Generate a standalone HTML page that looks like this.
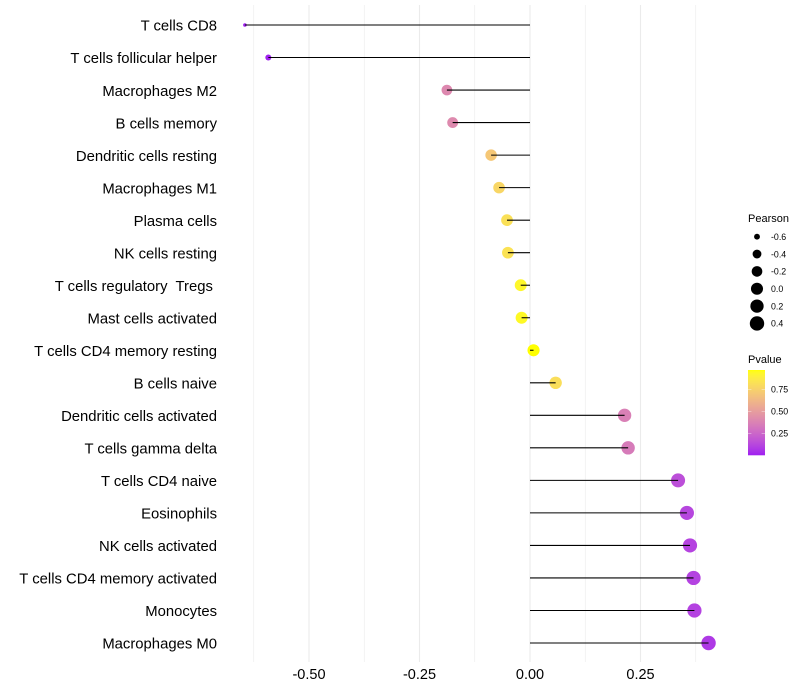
<!DOCTYPE html>
<html>
<head>
<meta charset="utf-8">
<title>Immune cell correlation lollipop chart</title>
<style>
html,body{margin:0;padding:0;background:#fff;width:800px;height:700px;overflow:hidden}
svg{display:block}
text{font-family:"Liberation Sans",sans-serif;fill:#000}
</style>
</head>
<body>
<svg id="chart" xmlns="http://www.w3.org/2000/svg" width="800" height="700" viewBox="0 0 800 700"></svg>
<script>
const categories = ["T cells CD8","T cells follicular helper","Macrophages M2","B cells memory","Dendritic cells resting","Macrophages M1","Plasma cells","NK cells resting","T cells regulatory  Tregs ","Mast cells activated","T cells CD4 memory resting","B cells naive","Dendritic cells activated","T cells gamma delta","T cells CD4 naive","Eosinophils","NK cells activated","T cells CD4 memory activated","Monocytes","Macrophages M0"];
const pearson = [-0.645,-0.592,-0.188,-0.175,-0.088,-0.07,-0.052,-0.05,-0.021,-0.019,0.008,0.058,0.214,0.222,0.335,0.355,0.362,0.37,0.372,0.404];
const pvalue = [0.002,0.007,0.40,0.41,0.70,0.77,0.82,0.83,0.93,0.94,0.97,0.81,0.36,0.34,0.15,0.115,0.105,0.10,0.10,0.07];
const majorTicks = [-0.5,-0.25,0,0.25];
const majorTickLabels = ["-0.50","-0.25","0.00","0.25"];
const minorTicks = [-0.625,-0.375,-0.125,0.125,0.375];
const sizeLegendValues = [-0.6,-0.4,-0.2,0,0.2,0.4];
const sizeLegendLabels = ["-0.6","-0.4","-0.2","0.0","0.2","0.4"];
const colorLegendValues = [0.25,0.5,0.75];
const colorLegendLabels = ["0.25","0.50","0.75"];

const svgNS = "http://www.w3.org/2000/svg";
const chart = document.getElementById("chart");
function make(tag, attrs, parent){
  const el = document.createElementNS(svgNS, tag);
  for (const k in attrs) el.setAttribute(k, attrs[k]);
  (parent || chart).appendChild(el);
  return el;
}
/* axis functions */
const xScale = v => 530 + v * 442;
const yScale = i => 25 + i * (618 / 19);
const sizeMin = -0.645, sizeMax = 0.404;
const radiusScale = v => 1.8 + 5.4 * Math.sqrt(Math.max(0, (v - sizeMin) / (sizeMax - sizeMin)));
const legendY = i => 236.7 + i * 17.35;
const barTop = 370, barBottom = 455;
const barY = p => 455.3 - p * 88;

/* colour scale: purple to yellow, interpolated in Lab */
function toLab(rgb){
  const l = rgb.map(c => { c /= 255; return c > 0.04045 ? Math.pow((c + 0.055) / 1.055, 2.4) : c / 12.92; });
  const X = (0.4124*l[0]+0.3576*l[1]+0.1805*l[2]) / 0.95047;
  const Y = 0.2126*l[0]+0.7152*l[1]+0.0722*l[2];
  const Z = (0.0193*l[0]+0.1192*l[1]+0.9505*l[2]) / 1.08883;
  const f = t => t > 0.008856 ? Math.cbrt(t) : 7.787*t + 16/116;
  return [116*f(Y)-16, 500*(f(X)-f(Y)), 200*(f(Y)-f(Z))];
}
function fromLab(lab){
  const fy = (lab[0]+16)/116, fx = fy + lab[1]/500, fz = fy - lab[2]/200;
  const g = t => t*t*t > 0.008856 ? t*t*t : (t-16/116)/7.787;
  const X = g(fx)*0.95047, Y = g(fy), Z = g(fz)*1.08883;
  const lin = [3.2406*X-1.5372*Y-0.4986*Z, -0.9689*X+1.8758*Y+0.0415*Z, 0.0557*X-0.2040*Y+1.0570*Z];
  const out = lin.map(c => { c = Math.min(1, Math.max(0, c)); c = c > 0.0031308 ? 1.055*Math.pow(c,1/2.4)-0.055 : 12.92*c; return Math.round(c*255); });
  return "rgb(" + out.join(",") + ")";
}
const lowLab = toLab([160,32,240]), highLab = toLab([255,255,0]);
const colorScale = p => {
  const t = Math.min(1, Math.max(0, (p - 0.002) / (0.97 - 0.002)));
  return fromLab(lowLab.map((c,i) => c + (highLab[i]-c)*t));
};

/* gridlines */
minorTicks.forEach(v => {
  const line = make("line", {x1:xScale(v), x2:xScale(v), y1:5, y2:662, stroke:"#ebebeb", "stroke-width":0.55});
  
  
});
majorTicks.forEach((v,i) => {
  const line = make("line", {x1:xScale(v), x2:xScale(v), y1:5, y2:662, stroke:"#ebebeb", "stroke-width":1.07});
  
  
  const label = make("text", {x:xScale(v), y:679, "text-anchor":"middle", "font-size":14.5});
  
  
  label.textContent = majorTickLabels[i];
});

/* category labels */
categories.forEach((c,i) => {
  const label = make("text", {x:217, y:yScale(i)+5.7, "text-anchor":"end", "font-size":14.85, style:"white-space:pre"});
  
  
  label.textContent = c;
});

/* points, then segments on top */
pearson.forEach((v,i) => {
  const dot = make("circle", {cx:xScale(v), cy:yScale(i), r:radiusScale(v), fill:colorScale(pvalue[i])});
  
  
});
pearson.forEach((v,i) => {
  const seg = make("line", {x1:xScale(0), x2:xScale(v), y1:yScale(i), y2:yScale(i), stroke:"#000", "stroke-width":1.07});
  
  
});

/* size legend */
const sizeTitle = make("text", {x:748, y:222, "font-size":11});


sizeTitle.textContent = "Pearson";
sizeLegendValues.forEach((v,i) => {
  const dot = make("circle", {cx:757, cy:legendY(i), r:radiusScale(v), fill:"#000"});
  
  
  const label = make("text", {x:771, y:legendY(i)+3.2, "font-size":8.8});
  
  
  label.textContent = sizeLegendLabels[i];
});

/* colour legend */
const colorTitle = make("text", {x:748, y:363, "font-size":11});


colorTitle.textContent = "Pvalue";
const barSteps = 85;
for (let s = 0; s < barSteps; s++) {
  const yy = barTop + s;
  const cell = make("rect", {x:748, y:yy, width:17, height:1.3, fill:colorScale((barBottom - yy - 0.5) / 85 * 0.97)});
  
  
}
colorLegendValues.forEach((v,i) => {
  const yy = barY(v);
  const t1 = make("line", {x1:748, x2:751.4, y1:yy, y2:yy, stroke:"#fff", "stroke-opacity":0.6, "stroke-width":0.6});
  
  
  const t2 = make("line", {x1:761.6, x2:765, y1:yy, y2:yy, stroke:"#fff", "stroke-opacity":0.6, "stroke-width":0.6});
  
  
  const label = make("text", {x:771, y:yy+3.2, "font-size":8.8});
  
  
  label.textContent = colorLegendLabels[i];
});
</script>
</body>
</html>
